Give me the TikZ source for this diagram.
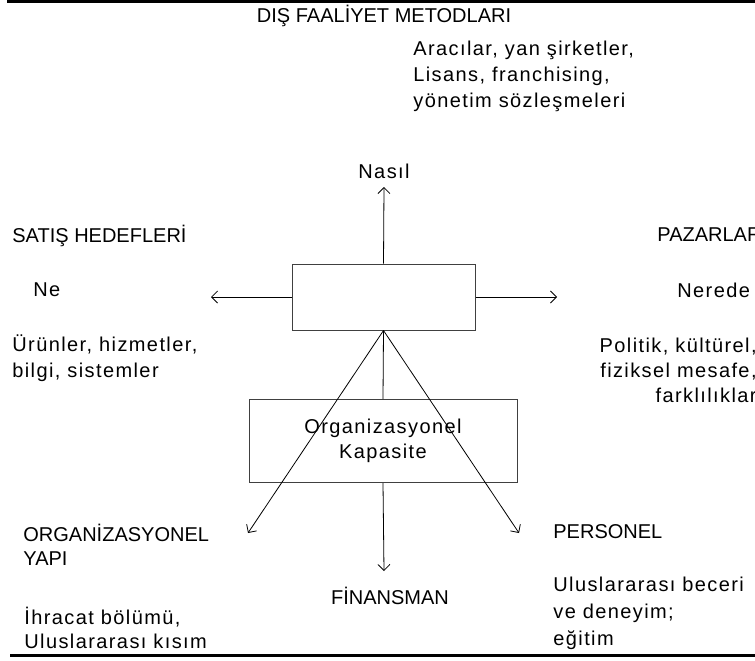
\documentclass[tikz,border=0pt]{standalone}
\usepackage{fontspec}
\setmainfont{Liberation Sans}
\usetikzlibrary{arrows.meta}

\begin{document}
\begin{tikzpicture}[
            x = 1pt, y = -1pt, % pixel units, y grows downwards
            > = {Straight Barb[length=6pt, width=12pt]}, % open arrow head
            line width = 0.8pt,
            every node/.style = {inner sep = 0pt}
        ]

        \tikzstyle{kutu}=[
            draw = black!75,
            line width = 1pt,
            fill = white
        ]
        \tikzstyle{baslik}=[font=\fontsize{20}{24}\selectfont]
        \tikzstyle{yazi}=[font=\fontsize{20}{26}\selectfont\addfontfeature{LetterSpace=7}]

	\useasboundingbox (0,0) rectangle (755,661);
	\draw[line width=3pt] (7,2) -- (755,2);
	\draw[line width=3pt] (10,655) -- (755,655);

	\node[kutu, minimum width=183pt, minimum height=66pt] (dis) at (383.5,297) {};
	\node[kutu, minimum width=268pt, minimum height=83pt, align=center, font=\fontsize{20}{25}\selectfont\addfontfeature{LetterSpace=7}] (kap) at (383,441) {Organizasyonel\\Kapasite};

	\coordinate (nasilUc) at (384,187);
	\coordinate (neUc) at (211,297);
	\coordinate (neredeUc) at (557,297);
	\coordinate (finUc) at (384,571);
	\coordinate (orgUc) at (248,533);
	\coordinate (perUc) at (519,533);

	\draw[->] (dis.north) -- (nasilUc);
	\draw[->] (dis.west) -- (neUc);
	\draw[->] (dis.east) -- (neredeUc);
	\draw (dis.south) -- (kap.north);
	\draw[->] (kap.south) -- (finUc);
	\draw[->] (dis.south) -- (orgUc);
	\draw[->] (dis.south) -- (perUc);

	\node[baslik] (dfm) at (384,16) {DIŞ FAALİYET METODLARI};
	\node[yazi, anchor=west, align=left] (aracilar) at (413,76) {Aracılar, yan şirketler,\\Lisans, franchising,\\yönetim sözleşmeleri};
	\node[yazi] (nasil) at (384,171) {Nasıl};

	\node[baslik, anchor=west] (satis) at (12,236) {SATIŞ HEDEFLERİ};
	\node[yazi, anchor=west] (ne) at (33,290) {Ne};
	\node[yazi, anchor=west, align=left] (urunler) at (12,358) {Ürünler, hizmetler,\\bilgi, sistemler};

	\node[baslik, anchor=west] (pazar) at (657,235) {PAZARLAR};
	\node[yazi, anchor=west] (nerede) at (677,290) {Nerede};
	\node[yazi, anchor=east, align=right, font=\fontsize{20}{25}\selectfont\addfontfeature{LetterSpace=7}] (politik) at (757,370) {Politik, kültürel,\\fiziksel mesafe,\\farklılıklar};

	\node[baslik, anchor=west, align=left] (orgyapi) at (23,545) {ORGANİZASYONEL\\YAPI};
	\node[yazi, anchor=west, align=left, font=\fontsize{20}{24}\selectfont\addfontfeature{LetterSpace=7}] (ihracat) at (24,628) {İhracat bölümü,\\Uluslararası kısım};

	\node[baslik] (finans) at (390,596) {FİNANSMAN};

	\node[baslik, anchor=west] (personel) at (553,532) {PERSONEL};
	\node[yazi, anchor=west, align=left, font=\fontsize{20}{27}\selectfont\addfontfeature{LetterSpace=7}] (beceri) at (553,613) {Uluslararası beceri\\ve deneyim;\\eğitim};

    \end{tikzpicture}
\end{document}
